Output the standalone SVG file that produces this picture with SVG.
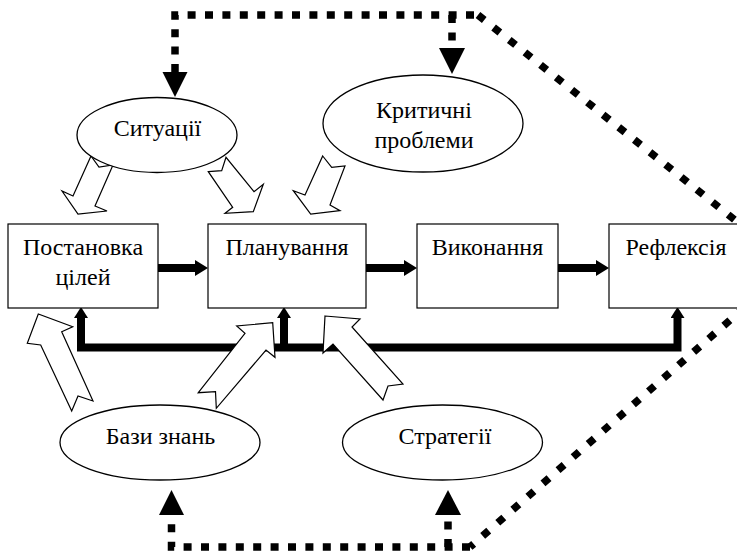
<svg xmlns="http://www.w3.org/2000/svg" width="737" height="553" viewBox="0 0 737 553">
<defs>
<style>
.box{fill:#fff;stroke:#000;stroke-width:1.2}
.ell{fill:#fff;stroke:#000;stroke-width:1.3}
.t{font-family:'Liberation Serif','Times New Roman',serif;font-size:24px;fill:#000;text-anchor:middle}
.thick{fill:none;stroke:#000;stroke-width:8;stroke-linejoin:miter}
.blk{fill:#fff;stroke:#000;stroke-width:1.2;stroke-linejoin:miter}
.dot{fill:none;stroke:#000;stroke-width:7.5;stroke-dasharray:8 9.4}
.dotd{fill:none;stroke:#000;stroke-width:7.5;stroke-dasharray:8 12}
.head{fill:#000}
</style>
<marker id="ah" viewBox="0 0 13 16" refX="0" refY="8" markerWidth="13" markerHeight="16" markerUnits="userSpaceOnUse" orient="auto">
<path d="M0,0 L13,8 L0,16 Z" fill="#000"/>
</marker>
<marker id="ahs" viewBox="0 0 11 14" refX="0" refY="7" markerWidth="11" markerHeight="14" markerUnits="userSpaceOnUse" orient="auto-start-reverse">
<path d="M0,0 L11,7 L0,14 Z" fill="#000"/>
</marker>
</defs>
<rect width="737" height="553" fill="#fff"/>

<g id="connectors">
<path class="dot" d="M175,72 V15 H478"/>
<path class="dotd" d="M478,15 L760,240"/>
<path class="dot" d="M760,240 V294"/>
<path class="dotd" d="M760,294 L470,547"/>
<path class="dot" d="M470,547 H171.5 V515"/>
<path class="dot" d="M452,15 V48"/>
<path class="dot" d="M448,547 V515"/>
<path class="head" d="M162.5,72 L187.5,72 L175,97 Z"/>
<path class="head" d="M439,48 L465,48 L452,74 Z"/>
<path class="head" d="M159,515 L184,515 L171.5,490 Z"/>
<path class="head" d="M435,515 L461,515 L448,490 Z"/>
<line class="thick" x1="158" y1="268" x2="195" y2="268" marker-end="url(#ah)"/>
<line class="thick" x1="366" y1="268" x2="404" y2="268" marker-end="url(#ah)"/>
<line class="thick" x1="558" y1="268" x2="596" y2="268" marker-end="url(#ah)"/>
<path class="thick" d="M81,318 V347.5 H677.5 V318" marker-start="url(#ahs)" marker-end="url(#ahs)"/>
<path class="thick" d="M284,347.5 V318" marker-end="url(#ahs)"/>
<polygon class="blk" points="91,156 99,167 113,165 95,206 107,211 78,214 62,191 73,196"/>
<polygon class="blk" points="208.3,171.7 221.7,170.7 226,157.3 254,191.7 263.3,184.3 253.3,211.7 225,213.3 232.7,207.3"/>
<polygon class="blk" points="322.7,156 331.7,167.3 345,166 330,205 340,210.7 310.7,214 293.3,190.7 305,195"/>
<polygon class="blk" points="93,401 78,396 71.7,411 40.7,345 27.3,343.3 38.3,314 72.7,326.7 61.7,331.7"/>
<polygon class="blk" points="198.3,392.7 245,333.3 236.7,326 272.7,322.7 275,357.3 266,350 216.3,408.3 215.5,391.7"/>
<polygon class="blk" points="325,316 360,319 352,327 403,384 388,386 383,400 333,344 323,353"/>
</g>

<g id="n-goal">
<rect class="box" x="8" y="224" width="150" height="84"/>
<text class="t" x="83" y="255">Постановка</text>
<text class="t" x="83" y="285">цілей</text>
</g>
<g id="n-plan">
<rect class="box" x="208" y="224" width="158" height="84"/>
<text class="t" x="287" y="255">Планування</text>
</g>
<g id="n-exec">
<rect class="box" x="417" y="224" width="141" height="84"/>
<text class="t" x="487.5" y="255">Виконання</text>
</g>
<g id="n-refl">
<rect class="box" x="609" y="224" width="134" height="84"/>
<text class="t" x="676" y="255">Рефлексія</text>
</g>
<g id="n-sit">
<ellipse class="ell" cx="157" cy="135" rx="80" ry="37.5"/>
<text class="t" x="157.5" y="136">Ситуації</text>
</g>
<g id="n-crit">
<ellipse class="ell" cx="423" cy="123.5" rx="100" ry="48.5"/>
<text class="t" x="424" y="118">Критичні</text>
<text class="t" x="424" y="148">проблеми</text>
</g>
<g id="n-kb">
<ellipse class="ell" cx="160" cy="442.5" rx="100" ry="37.5"/>
<text class="t" x="160.5" y="444">Бази знань</text>
</g>
<g id="n-strat">
<ellipse class="ell" cx="442.5" cy="442.5" rx="100" ry="37.5"/>
<text class="t" x="445" y="444">Стратегії</text>
</g>
</svg>
